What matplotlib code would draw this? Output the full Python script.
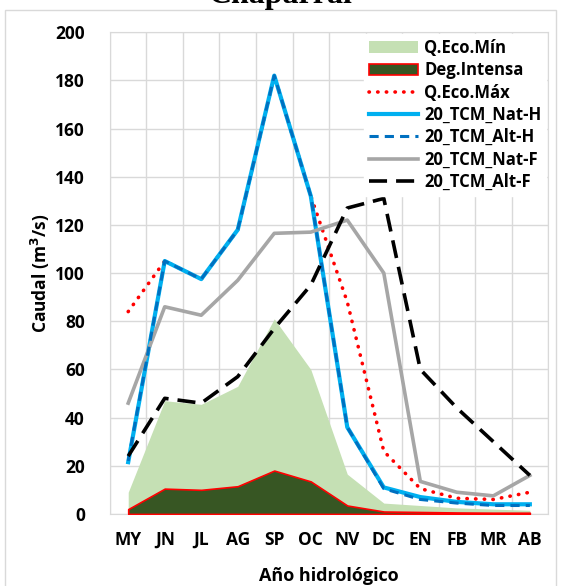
import matplotlib.pyplot as plt
from matplotlib.patches import Rectangle

# meses del año hidrológico
months = ["MY", "JN", "JL", "AG", "SP", "OC", "NV", "DC", "EN", "FB", "MR", "AB"]

q_eco_min = [9, 47, 45.5, 53, 81, 60, 16.5, 4.5, 3.5, 2.5, 2, 1.5]
deg_intensa = [2, 10.5, 10, 11.5, 18, 13.5, 3.5, 1, 0.8, 0.6, 0.5, 0.5]
q_eco_max = [84, 105, 97.5, 118, 182, 132, 88, 26, 10.5, 6.5, 6, 9]
nat_h = [21.5, 105, 97.5, 118, 182, 132, 36, 11, 7, 5, 4, 4]
alt_h = [22, 105, 97.5, 118, 182, 132, 36, 10.5, 6, 4.5, 3.5, 3.5]
nat_f = [46, 86, 82.5, 97, 116.5, 117, 122, 100, 13.5, 9, 7.5, 16]
alt_f = [24, 48, 46, 57, 77, 95, 127, 131, 60, 44, 30, 16]

plt.rcParams['font.family'] = ['Open Sans', 'DejaVu Sans']
plt.rcParams['font.weight'] = 'bold'
plt.rcParams['axes.labelweight'] = 'bold'

fig = plt.figure(figsize=(5.61, 5.86), dpi=100)
ax = fig.add_axes([0.196, 0.123, 0.781, 0.822])

# borde exterior del gráfico
fig.patches.append(Rectangle((0.009, -0.01), 0.982, 0.993, transform=fig.transFigure,
                             fill=False, edgecolor='#D9D9D9', linewidth=1))
fig.text(0.5, 1.008, "Chaparral", ha='center', va='center', fontsize=23,
         fontweight='bold', family='Liberation Serif')

x = list(range(len(months)))
ax.fill_between(x, q_eco_min, color='#C5E0B4', linewidth=0, label='Q.Eco.Mín', zorder=2)
ax.fill_between(x, deg_intensa, facecolor='#375623', edgecolor='#FF0000',
                linewidth=1.2, label='Deg.Intensa', zorder=3)
ax.plot(x, q_eco_max, color='#FF0000', linestyle=(0, (0.1, 2.3)), linewidth=2.6,
        dash_capstyle='round', label='Q.Eco.Máx', zorder=4)
ax.plot(x, nat_h, color='#00B0F0', linewidth=3, label='20_TCM_Nat-H', zorder=5)
ax.plot(x, alt_h, color='#0070C0', linestyle=(0, (3, 2)), linewidth=2.2,
        label='20_TCM_Alt-H', zorder=6)
ax.plot(x, nat_f, color='#A6A6A6', linewidth=2.6, label='20_TCM_Nat-F', zorder=5)
ax.plot(x, alt_f, color='black', linestyle=(0, (5, 2.5)), linewidth=2.6,
        label='20_TCM_Alt-F', zorder=6)

ax.set_xlim(-0.5, 11.5)
ax.set_ylim(0, 200)
ax.set_yticks(range(0, 201, 20))
ax.set_xticks(x)
ax.set_xticklabels(months)
ax.set_xticks([i + 0.5 for i in range(-1, 12)], minor=True)
ax.grid(False)
ax.grid(True, which='minor', axis='x', color='#D9D9D9', linewidth=1)
ax.grid(True, which='major', axis='y', color='#D9D9D9', linewidth=1)
ax.set_axisbelow(True)
ax.tick_params(which='both', length=0)
ax.tick_params(axis='y', labelsize=12.5, pad=18)
ax.tick_params(axis='x', labelsize=12.5, pad=12)
for s in ax.spines.values():
    s.set_color('#D9D9D9')

ax.set_ylabel("Caudal (m$^\\mathbf{3}$/s)", fontsize=12.5, labelpad=2)
ax.set_xlabel("Año hidrológico", fontsize=13, labelpad=13)

leg = ax.legend(loc='upper right', frameon=True, fancybox=False,
                borderaxespad=0.1, borderpad=0.3, handlelength=2.9, handletextpad=0.4,
                labelspacing=0.26, prop={'weight': 'bold', 'size': 12})
leg.get_frame().set_edgecolor('white')
leg.get_frame().set_alpha(1)
leg.set_zorder(10)

fig.savefig("out.png", dpi=100)
